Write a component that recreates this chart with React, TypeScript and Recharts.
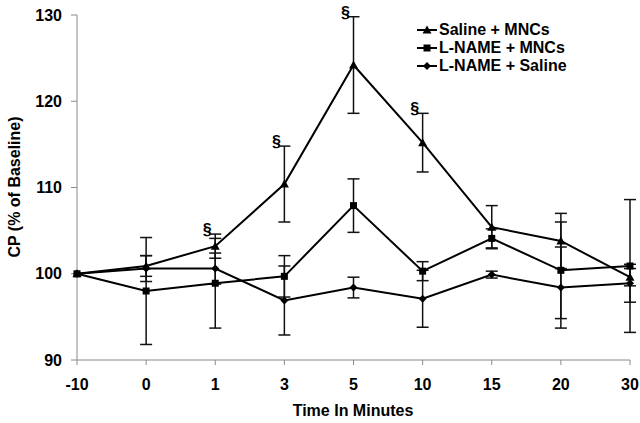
import React from "react";
import { ErrorBar, Legend, Line, LineChart, XAxis, YAxis } from "recharts";

const times = ["-10", "0", "1", "3", "5", "10", "15", "20", "30"];

const salineMncs = [100, 100.9, 103.2, 110.4, 124.2, 115.2, 105.4, 103.8, 99.6];
const salineMncsErr = [0, 1.2, 1.4, 4.4, 5.6, 3.4, 2.5, 3.2, 1.0];

const lnameMncs = [100, 98.0, 98.9, 99.7, 107.9, 100.3, 104.1, 100.4, 100.9];
const lnameMncsErr = [0, 6.2, 5.2, 2.4, 3.1, 1.1, 1.1, 5.6, 7.7];

const lnameSaline = [100, 100.6, 100.6, 96.9, 98.4, 97.1, 99.9, 98.4, 98.9];
const lnameSalineErr = [0, 1.5, 1.8, 4.0, 1.2, 3.3, 0.4, 4.7, 2.2];

// § marks over the Saline + MNCs points
const significant = [false, false, true, true, true, true, false, false, false];

const yTicks = [90, 100, 110, 120, 130];

const data = times.map((t, i) => ({
  time: t,
  sm: salineMncs[i],
  smErr: salineMncsErr[i],
  lm: lnameMncs[i],
  lmErr: lnameMncsErr[i],
  ls: lnameSaline[i],
  lsErr: lnameSalineErr[i],
  sig: significant[i] ? salineMncs[i] + salineMncsErr[i] : null,
}));

const FONT = "'Liberation Sans', Arial, sans-serif";
const AXIS = "#8a8a8a";

type Shape = "triangle" | "square" | "diamond";

function marker(shape: Shape, cx: number, cy: number, key?: string) {
  if (shape === "triangle") {
    return <path key={key} d={`M${cx},${cy - 4.5} L${cx + 4.5},${cy + 3.5} L${cx - 4.5},${cy + 3.5} Z`} fill="#000" />;
  }
  if (shape === "square") {
    return <rect key={key} x={cx - 3.5} y={cy - 3.5} width={7} height={7} fill="#000" />;
  }
  return <path key={key} d={`M${cx},${cy - 4} L${cx + 4},${cy} L${cx},${cy + 4} L${cx - 4},${cy} Z`} fill="#000" />;
}

const dotFor = (shape: Shape) => (props: any) => {
  const { cx, cy, index } = props;
  if (cx == null || cy == null) return <g key={`e-${shape}-${index}`} />;
  return marker(shape, cx, cy, `d-${shape}-${index}`);
};

const legendItems: { name: string; shape: Shape }[] = [
  { name: "Saline + MNCs", shape: "triangle" },
  { name: "L-NAME + MNCs", shape: "square" },
  { name: "L-NAME + Saline", shape: "diamond" },
];

function renderLegend() {
  return (
    <div style={{ fontFamily: FONT, fontWeight: "bold", fontSize: 16, lineHeight: "18px", color: "#000" }}>
      {legendItems.map((it) => (
        <div key={it.name} style={{ display: "flex", alignItems: "center", whiteSpace: "nowrap" }}>
          <svg width={21} height={12} style={{ marginRight: 1 }}>
            <line x1={0} y1={6} x2={20} y2={6} stroke="#000" strokeWidth={2} />
            {marker(it.shape, 10, 6)}
          </svg>
          <span>{it.name}</span>
        </div>
      ))}
    </div>
  );
}

function renderSig(props: any) {
  const { x, y, value, index } = props;
  if (value == null || x == null || y == null) return null;
  return (
    <text key={`s-${index}`} x={x - 8} y={y + 1} textAnchor="middle" fontFamily={FONT} fontWeight="bold" fontSize={16} fill="#000">
      §
    </text>
  );
}

export default function App() {
  return (
    <div style={{ position: "absolute", left: 0, top: 0, background: "#fff" }}>
      <LineChart width={640} height={423} data={data} margin={{ top: 15, right: 10, left: 17, bottom: 33 }}>
        <XAxis
          dataKey="time"
          interval={0}
          height={30}
          stroke={AXIS}
          tickSize={5}
          tickMargin={14}
          tick={{ fontSize: 16, fontWeight: "bold", fill: "#000", fontFamily: FONT }}
          label={{
            content: () => (
              <text x={353} y={416} textAnchor="middle" fontFamily={FONT} fontWeight="bold" fontSize={16} fill="#000">
                Time In Minutes
              </text>
            ),
          }}
        />
        <YAxis
          width={60}
          domain={[90, 130]}
          ticks={yTicks}
          interval={0}
          stroke={AXIS}
          tickSize={6}
          tickMargin={9}
          tick={{ fontSize: 16, fontWeight: "bold", fill: "#000", fontFamily: FONT }}
          label={{
            content: () => (
              <text
                x={20}
                y={187}
                transform="rotate(-90 20 187)"
                textAnchor="middle"
                fontFamily={FONT}
                fontWeight="bold"
                fontSize={16}
                fill="#000"
              >
                CP (% of Baseline)
              </text>
            ),
          }}
        />
        <Legend
          layout="vertical"
          align="center"
          verticalAlign="middle"
          content={renderLegend}
          wrapperStyle={{ left: 417, top: 21, width: 220 }}
        />
        <Line dataKey="ls" stroke="#000" strokeWidth={2} dot={dotFor("diamond")} activeDot={false} isAnimationActive={false}>
          <ErrorBar dataKey="lsErr" width={6} stroke="#111" strokeWidth={1.5} direction="y" isAnimationActive={false} />
        </Line>
        <Line dataKey="lm" stroke="#000" strokeWidth={2} dot={dotFor("square")} activeDot={false} isAnimationActive={false}>
          <ErrorBar dataKey="lmErr" width={6} stroke="#111" strokeWidth={1.5} direction="y" isAnimationActive={false} />
        </Line>
        <Line dataKey="sm" stroke="#000" strokeWidth={2} dot={dotFor("triangle")} activeDot={false} isAnimationActive={false}>
          <ErrorBar dataKey="smErr" width={6} stroke="#111" strokeWidth={1.5} direction="y" isAnimationActive={false} />
        </Line>
        <Line
          dataKey="sig"
          stroke="none"
          dot={false}
          activeDot={false}
          legendType="none"
          isAnimationActive={false}
          label={renderSig}
        />
      </LineChart>
    </div>
  );
}
